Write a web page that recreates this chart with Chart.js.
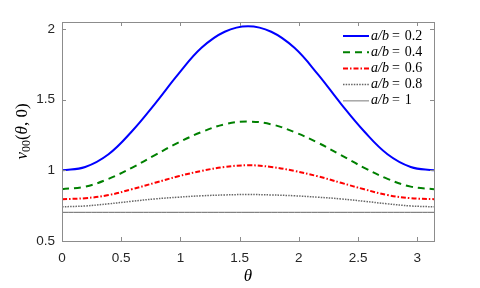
<!DOCTYPE html>
<html><head><meta charset="utf-8">
<script src="https://cdn.jsdelivr.net/npm/chart.js@4.4.0/dist/chart.umd.min.js"></script>
<style>html,body{margin:0;padding:0;background:#fff;overflow:hidden}canvas{display:block}</style>
</head><body>
<canvas id="c" width="480" height="288"></canvas>
<script>
// ---- data ----
const theta = [0, 0.196, 0.393, 0.589, 0.785, 0.982, 1.178, 1.374, 1.571, 1.767, 1.963, 2.160, 2.356, 2.553, 2.749, 2.945, 3.1416];
const ratio02 = [1.00, 1.024, 1.114, 1.275, 1.471, 1.681, 1.867, 1.981, 2.02, 1.981, 1.867, 1.681, 1.471, 1.275, 1.114, 1.024, 1.00];
const ratio04 = [0.867, 0.885, 0.940, 1.018, 1.108, 1.196, 1.271, 1.326, 1.345, 1.326, 1.271, 1.196, 1.108, 1.018, 0.940, 0.885, 0.867];
const ratio06 = [0.796, 0.803, 0.825, 0.866, 0.912, 0.958, 0.996, 1.024, 1.036, 1.024, 0.996, 0.958, 0.912, 0.866, 0.825, 0.803, 0.796];
const ratio08 = [0.742, 0.748, 0.763, 0.781, 0.798, 0.810, 0.820, 0.826, 0.829, 0.826, 0.820, 0.810, 0.798, 0.781, 0.763, 0.748, 0.742];
const ratio10 = [0.703, 0.703, 0.703, 0.703, 0.703, 0.703, 0.703, 0.703, 0.703, 0.703, 0.703, 0.703, 0.703, 0.703, 0.703, 0.703, 0.703];
const seriesLabels = ['0.2', '0.4', '0.6', '0.8', '1'];
const xTicks = [0, 0.5, 1, 1.5, 2, 2.5, 3];
const yTicks = [0.5, 1, 1.5, 2];
const xRange = [0, 3.1416];
const yRange = [0.5, 2.05];

const styles = [
  {color: '#0000ff', width: 2, dash: []},
  {color: '#008000', width: 2, dash: [7, 5]},
  {color: '#ff0000', width: 2, dash: [5, 2, 1.5, 2]},
  {color: '#666666', width: 1.5, dash: [1.5, 1.2]},
  {color: '#666666', width: 1, dash: []}
];
const seriesValues = [ratio02, ratio04, ratio06, ratio08, ratio10];

const datasets = seriesValues.map((vals, i) => ({
  label: 'a/b = ' + seriesLabels[i],
  data: theta.map((t, k) => ({x: t, y: vals[k]})),
  borderColor: styles[i].color,
  borderWidth: styles[i].width,
  borderDash: styles[i].dash,
  pointRadius: 0,
  fill: false,
  tension: 0.4
}));

const SERIF = '"Liberation Serif", "Times New Roman", serif';
const AXIS = '#8c8c8c';

function drawParts(ctx, parts, x, y) {
  let cx = x;
  parts.forEach(p => {
    ctx.font = p.f;
    ctx.fillText(p.t, cx, y + (p.dy || 0));
    cx += ctx.measureText(p.t).width + (p.gap || 0);
  });
}
function partsWidth(ctx, parts) {
  let w = 0;
  parts.forEach(p => { ctx.font = p.f; w += ctx.measureText(p.t).width + (p.gap || 0); });
  return w;
}

const framePlugin = {
  id: 'frame',
  afterDraw(chart) {
    const ctx = chart.ctx;
    const a = chart.chartArea;
    const xs = chart.scales.x, ys = chart.scales.y;
    ctx.save();
    // box
    ctx.strokeStyle = AXIS;
    ctx.lineWidth = 1;
    ctx.setLineDash([]);
    ctx.strokeRect(Math.round(a.left) + 0.5, Math.round(a.top) + 0.5, Math.round(a.right - a.left), Math.round(a.bottom - a.top));
    // inward ticks
    ctx.beginPath();
    xs.ticks.forEach(t => {
      const px = Math.round(xs.getPixelForValue(t.value)) + 0.5;
      ctx.moveTo(px, a.bottom); ctx.lineTo(px, a.bottom - 4);
      ctx.moveTo(px, a.top); ctx.lineTo(px, a.top + 4);
    });
    ys.ticks.forEach(t => {
      const py = Math.round(ys.getPixelForValue(t.value)) + 0.5;
      ctx.moveTo(a.left, py); ctx.lineTo(a.left + 4, py);
      ctx.moveTo(a.right, py); ctx.lineTo(a.right - 4, py);
    });
    ctx.stroke();

    // legend
    const rowY0 = 36, rowH = 16.2, lx0 = 343, lx1 = 369, tx = 371;
    chart.data.datasets.forEach((ds, i) => {
      const y = rowY0 + i * rowH;
      ctx.save();
      ctx.strokeStyle = i === 4 ? '#a6a6a6' : ds.borderColor;
      ctx.lineWidth = i === 4 ? 1.5 : ds.borderWidth;
      ctx.setLineDash(ds.borderDash || []);
      ctx.beginPath();
      ctx.moveTo(lx0, y); ctx.lineTo(lx1, y);
      ctx.stroke();
      ctx.restore();
      ctx.fillStyle = '#000';
      ctx.textBaseline = 'middle';
      ctx.textAlign = 'left';
      ctx.font = 'italic 14px ' + SERIF;
      ctx.fillText('a/b', tx, y);
      const wab = ctx.measureText('a/b').width;
      ctx.font = '14px ' + SERIF;
      const xe = tx + wab + 3;
      ctx.fillText('=', xe, y);
      const xv = xe + ctx.measureText('=').width + 5;
      ctx.fillText(seriesLabels[i], xv, y);
    });

    // x title
    ctx.fillStyle = '#000';
    ctx.textBaseline = 'alphabetic';
    ctx.textAlign = 'center';
    ctx.font = 'italic 17px ' + SERIF;
    ctx.fillText('θ', (a.left + a.right) / 2, 281);

    // y title (rotated)
    const parts = [
      {t: 'v', f: 'italic 17px ' + SERIF},
      {t: '00', f: '12px ' + SERIF, dy: 3},
      {t: '(', f: '17px ' + SERIF},
      {t: 'θ', f: 'italic 17px ' + SERIF},
      {t: ', 0)', f: '17px ' + SERIF}
    ];
    ctx.translate(27, (a.top + a.bottom) / 2);
    ctx.rotate(-Math.PI / 2);
    ctx.textAlign = 'left';
    const w = partsWidth(ctx, parts);
    drawParts(ctx, parts, -w / 2, 0);
    ctx.restore();
  }
};

Chart.defaults.font.family = '"Liberation Sans", Arial, sans-serif';

new Chart(document.getElementById('c'), {
  type: 'line',
  data: {datasets},
  options: {
    responsive: false,
    maintainAspectRatio: false,
    devicePixelRatio: 1,
    animation: false,
    layout: {padding: {left: 0, right: 46, top: 22, bottom: 0}},
    plugins: {legend: {display: false}, tooltip: {enabled: false}},
    scales: {
      x: {
        type: 'linear',
        min: xRange[0], max: xRange[1],
        afterBuildTicks: s => { s.ticks = xTicks.map(v => ({value: v})); },
        afterFit: s => { s.height = 47; },
        grid: {display: false, drawTicks: false},
        border: {display: false},
        ticks: {color: '#262626', font: {size: 13.5}, padding: 9, maxRotation: 0, autoSkip: false,
                callback: v => String(v)}
      },
      y: {
        type: 'linear',
        min: yRange[0], max: yRange[1],
        afterBuildTicks: s => { s.ticks = yTicks.map(v => ({value: v})); },
        afterFit: s => { s.width = 62; },
        grid: {display: false, drawTicks: false},
        border: {display: false},
        ticks: {color: '#262626', font: {size: 13.5}, padding: 7, autoSkip: false,
                callback: v => String(v)}
      }
    }
  },
  plugins: [framePlugin]
});
</script>
</body></html>
